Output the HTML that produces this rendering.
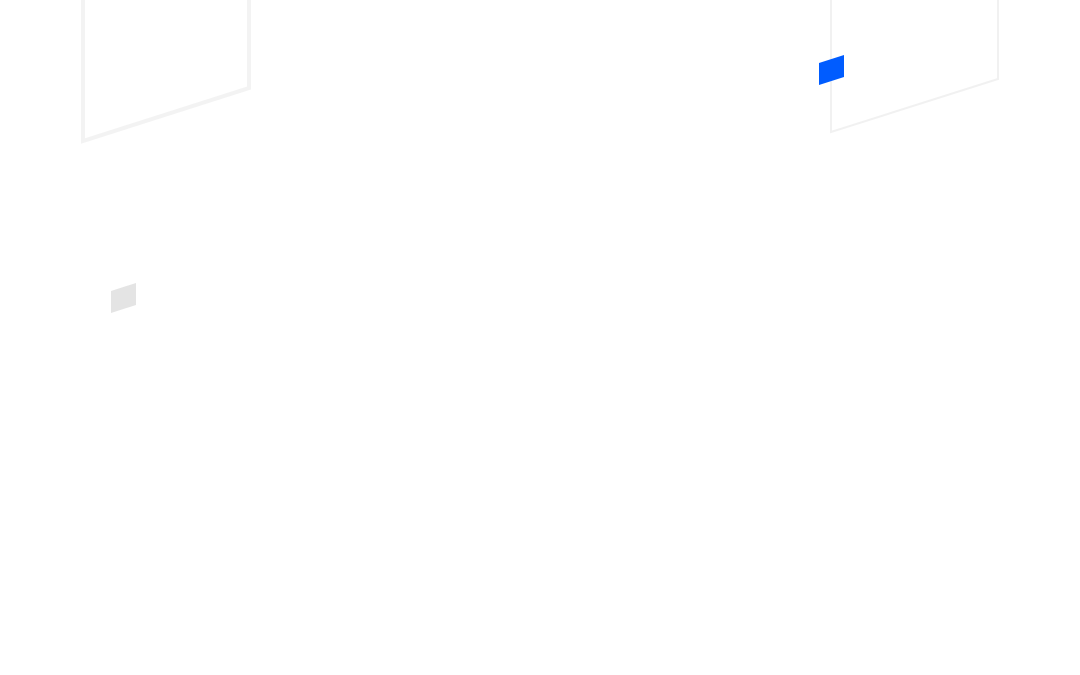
<!DOCTYPE html>
<html><head><meta charset="utf-8"><style>
html,body{margin:0;padding:0;background:#fff;width:1080px;height:675px;overflow:hidden}
</style></head><body>
<svg width="1080" height="675" viewBox="0 0 1080 675" xmlns="http://www.w3.org/2000/svg">
<rect width="1080" height="675" fill="#ffffff"/>
<polyline points="83,0 83,141 249,88 249,0" fill="none" stroke="#f3f3f3" stroke-width="4"/>
<polyline points="831,0 831,132 998,79 998,0" fill="none" stroke="#f1f1f1" stroke-width="2"/>
<polygon points="819,63 844,55 844,77 819,85" fill="#005cff"/>
<polygon points="111,291 136,283 136,305 111,313" fill="#e4e4e4"/>
</svg>
</body></html>
